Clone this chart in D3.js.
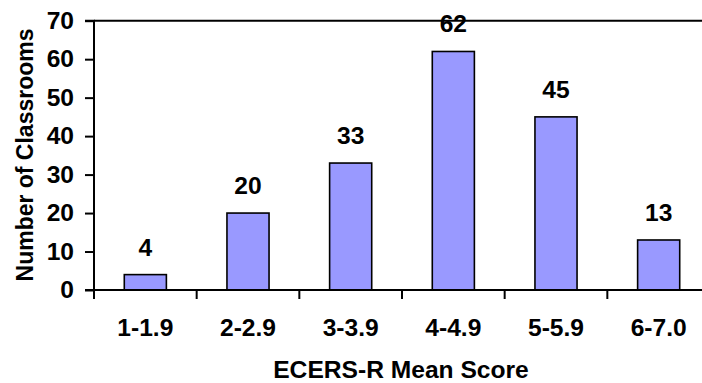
<!DOCTYPE html>
<html>
<head>
<meta charset="utf-8">
<script src="https://cdn.jsdelivr.net/npm/d3@7"></script>
<style>
  body { margin: 0; background: #fff; }
  text { font-family: Arial, "Liberation Sans", sans-serif; font-weight: bold; fill: #000; }
</style>
</head>
<body>
<div id="chart"></div>
<script>
// data
var categories = ["1-1.9", "2-2.9", "3-3.9", "4-4.9", "5-5.9", "6-7.0"];
var counts = [4, 20, 33, 62, 45, 13];
var yTicks = [0, 10, 20, 30, 40, 50, 60, 70];

var width = 702, height = 383;
var fontSize = 24;
var sx = 1.025; // the reference text is a little wide

var svg = d3.select("#chart").append("svg")
    .attr("width", width)
    .attr("height", height);

function place(x, y) { return "translate(" + x + "," + y + ") scale(" + sx + ",1)"; }

// plot area runs past the right edge of the picture
var x = d3.scaleBand()
    .domain(categories)
    .range([94, 710])
    .paddingInner(0.59)
    .paddingOuter(0.295);

var y = d3.scaleLinear()
    .domain([0, 70])
    .range([290, 20.7]);

// top border of the plot
svg.append("line")
    .attr("x1", 94).attr("x2", 710)
    .attr("y1", y(70)).attr("y2", y(70))
    .attr("stroke", "#000").attr("stroke-width", 2);

// bars
svg.selectAll("rect.bar")
    .data(counts)
    .enter()
    .append("rect")
    .attr("class", "bar")
    .attr("x", function(d, i) { return x(categories[i]); })
    .attr("y", function(d) { return y(d); })
    .attr("width", x.bandwidth())
    .attr("height", function(d) { return y(0) - y(d); })
    .attr("fill", "#9999ff")
    .attr("stroke", "#000")
    .attr("stroke-width", 1.6);

// value labels
svg.selectAll("text.val")
    .data(counts)
    .enter()
    .append("text")
    .attr("class", "val")
    .attr("transform", function(d, i) { return place(x(categories[i]) + x.bandwidth() / 2, y(d) - 19); })
    .attr("text-anchor", "middle")
    .style("font-size", fontSize + "px")
    .text(function(d) { return d; });

// y axis (labels drawn by hand so they can be widened)
var yAxis = svg.append("g")
    .attr("transform", "translate(94,0)")
    .call(d3.axisLeft(y).tickValues(yTicks).tickSize(9).tickFormat(""));
yAxis.select(".domain").attr("stroke-width", 2).attr("d", "M-9," + y(70) + "H0V" + y(0));
yAxis.selectAll(".tick line").attr("stroke-width", 2);
svg.selectAll("text.ytick")
    .data(yTicks)
    .enter()
    .append("text")
    .attr("class", "ytick")
    .attr("transform", function(d) { return place(74, y(d) + 8); })
    .attr("text-anchor", "end")
    .style("font-size", fontSize + "px")
    .text(function(d) { return d; });

// x axis: ticks sit between the categories
var xAxisG = svg.append("g");
xAxisG.append("line")
    .attr("x1", 85).attr("x2", 710)
    .attr("y1", y(0)).attr("y2", y(0))
    .attr("stroke", "#000").attr("stroke-width", 2);
var bounds = d3.range(categories.length + 1).map(function(i) { return 94 + i * x.step(); });
xAxisG.selectAll("line.tk")
    .data(bounds)
    .enter()
    .append("line")
    .attr("class", "tk")
    .attr("x1", function(d) { return d; }).attr("x2", function(d) { return d; })
    .attr("y1", y(0)).attr("y2", y(0) + 9)
    .attr("stroke", "#000").attr("stroke-width", 2);
xAxisG.selectAll("text")
    .data(categories)
    .enter()
    .append("text")
    .attr("transform", function(d) { return place(x(d) + x.bandwidth() / 2, 336); })
    .attr("text-anchor", "middle")
    .style("font-size", fontSize + "px")
    .text(function(d) { return d; });

// axis titles
svg.append("text")
    .attr("transform", place(401, 378))
    .attr("text-anchor", "middle")
    .style("font-size", fontSize + "px")
    .text("ECERS-R Mean Score");

svg.append("text")
    .attr("transform", "translate(33,155) rotate(-90) scale(1,1.07)")
    .attr("text-anchor", "middle")
    .style("font-size", "23px")
    .text("Number of Classrooms");
</script>
</body>
</html>
